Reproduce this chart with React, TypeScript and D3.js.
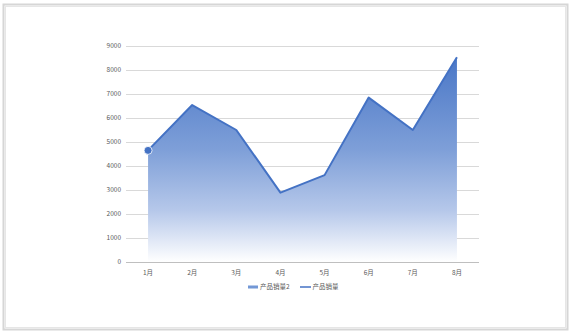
import React, { useEffect, useRef } from "react";
import * as d3 from "d3";

const months = ["1月", "2月", "3月", "4月", "5月", "6月", "7月", "8月"];
const sales = [4650, 6540, 5500, 2890, 3620, 6850, 5500, 8530];
const yTicks = [0, 1000, 2000, 3000, 4000, 5000, 6000, 7000, 8000, 9000];
const legendLabels = ["产品销量2", "产品销量"];

const W = 572;
const H = 336;
const BLUE = "#4472C4";
const FONT = "'Noto Sans CJK SC', 'Noto Sans', sans-serif";

export default function App() {
  const ref = useRef<SVGSVGElement>(null);

  useEffect(() => {
    const svg = d3.select(ref.current);
    svg.selectAll("*").remove();

    // Frame of the chart area
    svg.append("rect").attr("x", 0).attr("y", 0).attr("width", W).attr("height", H).attr("fill", "#ffffff");
    svg.append("rect")
      .attr("x", 3.5).attr("y", 4.5).attr("width", 564).attr("height", 325)
      .attr("fill", "none").attr("stroke", "#d6d6d6").attr("stroke-width", 2);
    svg.append("rect")
      .attr("x", 5.5).attr("y", 6.5).attr("width", 560).attr("height", 321)
      .attr("fill", "none").attr("stroke", "#e6e6e6").attr("stroke-width", 1);

    const x = d3.scaleBand<string>().domain(months).range([126, 479]);
    const y = d3.scaleLinear().domain([0, 9000]).range([262, 46]);
    const cx = (m: string) => (x(m) as number) + x.bandwidth() / 2;

    // Gridlines
    svg.append("g")
      .selectAll("line")
      .data(yTicks.filter((t) => t > 0))
      .join("line")
      .attr("x1", 126).attr("x2", 479)
      .attr("y1", (d) => Math.round(y(d)) + 0.5)
      .attr("y2", (d) => Math.round(y(d)) + 0.5)
      .attr("stroke", "#d9d9d9").attr("stroke-width", 1);

    // Y tick labels
    svg.append("g")
      .selectAll("text")
      .data(yTicks)
      .join("text")
      .attr("x", 121)
      .attr("y", (d) => y(d) + 2.3)
      .attr("text-anchor", "end")
      .attr("font-family", FONT)
      .attr("font-size", 6.5)
      .attr("fill", "#595959")
      .text((d) => String(d));

    // Gradient fill for the area
    const defs = svg.append("defs");
    const grad = defs.append("linearGradient")
      .attr("id", "areaGrad")
      .attr("gradientUnits", "userSpaceOnUse")
      .attr("x1", 0).attr("x2", 0)
      .attr("y1", y(d3.max(sales) as number)).attr("y2", y(0));
    grad.append("stop").attr("offset", 0).attr("stop-color", "#4a77c7");
    grad.append("stop").attr("offset", 0.45).attr("stop-color", "#7e9fd8");
    grad.append("stop").attr("offset", 0.75).attr("stop-color", "#b6c8ea");
    grad.append("stop").attr("offset", 1).attr("stop-color", "#ffffff");

    const pts = months.map((m, i) => ({ m, v: sales[i] }));

    const area = d3.area<{ m: string; v: number }>()
      .x((d) => cx(d.m))
      .y0(y(0))
      .y1((d) => y(d.v));
    svg.append("path").attr("d", area(pts) as string).attr("fill", "url(#areaGrad)");

    // X axis baseline
    svg.append("line")
      .attr("x1", 126).attr("x2", 479)
      .attr("y1", Math.round(y(0)) + 0.5).attr("y2", Math.round(y(0)) + 0.5)
      .attr("stroke", "#bfbfbf").attr("stroke-width", 1);

    // Line series
    const line = d3.line<{ m: string; v: number }>()
      .x((d) => cx(d.m))
      .y((d) => y(d.v));
    svg.append("path")
      .attr("d", line(pts) as string)
      .attr("fill", "none")
      .attr("stroke", BLUE)
      .attr("stroke-width", 2)
      .attr("stroke-linejoin", "round");

    // Marker on the first point
    svg.append("circle")
      .attr("cx", cx(months[0])).attr("cy", y(sales[0]))
      .attr("r", 4)
      .attr("fill", BLUE)
      .attr("stroke", "#ffffff").attr("stroke-width", 0.8);

    // X labels
    svg.append("g")
      .selectAll("text")
      .data(months)
      .join("text")
      .attr("x", (d) => cx(d))
      .attr("y", 275)
      .attr("text-anchor", "middle")
      .attr("font-family", FONT)
      .attr("font-size", 6.5)
      .attr("fill", "#595959")
      .text((d) => d);

    // Legend
    const lg = svg.append("g");
    lg.append("rect").attr("x", 248).attr("y", 285.5).attr("width", 10).attr("height", 3).attr("fill", "#7398d6");
    lg.append("text").attr("x", 260).attr("y", 289.2)
      .attr("font-family", FONT).attr("font-size", 6.5).attr("fill", "#595959").text(legendLabels[0]);
    lg.append("line").attr("x1", 300).attr("x2", 311).attr("y1", 287).attr("y2", 287)
      .attr("stroke", BLUE).attr("stroke-width", 1.5);
    lg.append("text").attr("x", 312.5).attr("y", 289.2)
      .attr("font-family", FONT).attr("font-size", 6.5).attr("fill", "#595959").text(legendLabels[1]);
  }, []);

  return (
    <svg
      ref={ref}
      width={W}
      height={H}
      style={{ position: "absolute", left: 0, top: 0, display: "block" }}
    />
  );
}
